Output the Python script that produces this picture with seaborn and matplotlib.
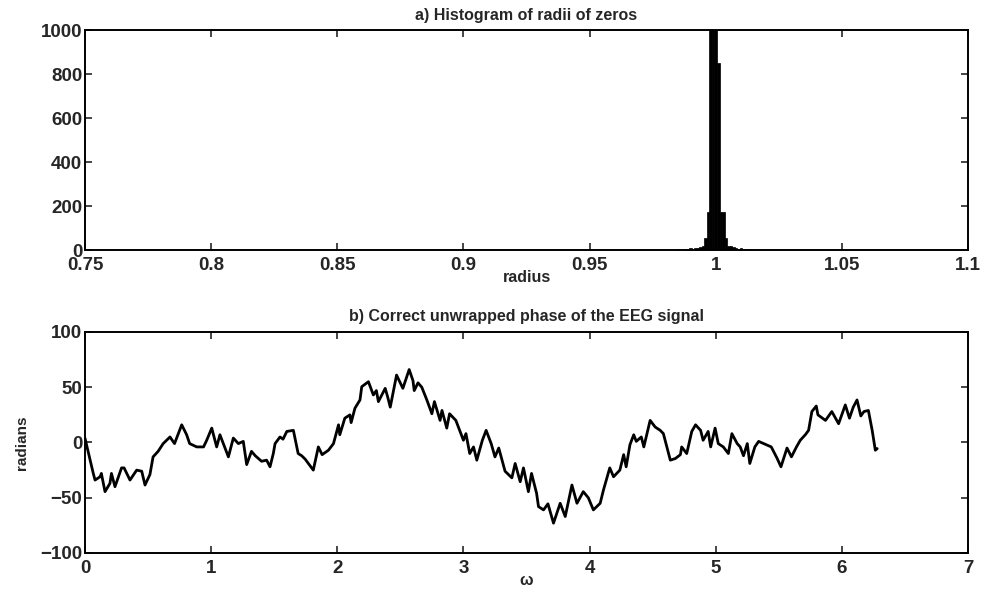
import numpy as np
import pandas as pd
import matplotlib
matplotlib.use("Agg")
import matplotlib.pyplot as plt
import seaborn as sns

# histogram of radii (bin centres and counts)
radius_bins = [0.985, 0.988, 0.990, 0.992, 0.993, 0.994, 0.995, 0.996, 0.997,
               0.998, 0.999, 1.000, 1.001, 1.002, 1.003, 1.004, 1.005, 1.006,
               1.007, 1.008, 1.010, 1.012, 1.014]
radius_counts = [3, 5, 8, 8, 10, 15, 20, 55, 174,
                 1000, 1000, 1000, 850, 174, 174, 55, 20, 20,
                 15, 10, 8, 5, 3]

# unwrapped phase, points
omega = [0.0, 0.066, 0.08, 0.12, 0.13, 0.159, 0.198, 0.21, 0.238, 0.29, 0.31, 0.357,
         0.41, 0.45, 0.476, 0.515, 0.54, 0.58, 0.62, 0.674, 0.71, 0.767, 0.806, 0.83,
         0.886, 0.94, 0.965, 1.005, 1.044, 1.07, 1.11, 1.137, 1.176, 1.216, 1.255,
         1.282, 1.32, 1.35, 1.4, 1.44, 1.467, 1.493, 1.507, 1.546, 1.57, 1.6, 1.652,
         1.69, 1.718, 1.745, 1.81, 1.85, 1.88, 1.93, 1.97, 2.01, 2.02, 2.06, 2.1,
         2.11, 2.14, 2.18, 2.194, 2.247, 2.286, 2.31, 2.326, 2.38, 2.40, 2.42, 2.47,
         2.52, 2.57, 2.6, 2.61, 2.64, 2.67, 2.71, 2.75, 2.77, 2.815, 2.83, 2.868,
         2.89, 2.94, 3.0, 3.02, 3.05, 3.08, 3.106, 3.15, 3.18, 3.22, 3.25, 3.28,
         3.33, 3.384, 3.41, 3.45, 3.476, 3.515, 3.54, 3.58, 3.595, 3.635, 3.67,
         3.714, 3.767, 3.807, 3.86, 3.9, 3.95, 3.99, 4.03, 4.084, 4.11, 4.16, 4.19,
         4.24, 4.27, 4.29, 4.32, 4.35, 4.37, 4.41, 4.43, 4.48, 4.52, 4.56, 4.585,
         4.64, 4.68, 4.72, 4.73, 4.77, 4.81, 4.84, 4.88, 4.9, 4.94, 4.96, 4.995,
         5.02, 5.06, 5.1, 5.128, 5.17, 5.194, 5.22, 5.25, 5.27, 5.31, 5.34, 5.38,
         5.44, 5.485, 5.517, 5.565, 5.6, 5.64, 5.67, 5.71, 5.736, 5.762, 5.797,
         5.81, 5.87, 5.92, 5.974, 6.027, 6.06, 6.09, 6.12, 6.15, 6.175, 6.21, 6.24,
         6.265, 6.28]
phase = [4, -28, -34, -31, -28, -44.5, -37, -28, -40, -23, -23, -34,
         -25, -26, -38.5, -29, -13, -8, -1, 5, -1, 16, 7, -1,
         -4, -4, 2, 13, -4, 7, -5, -13, 4, -1, 1,
         -20, -8, -12, -17, -16, -22, -10, -1, 5, 3, 10, 11,
         -10, -12, -15, -25, -4, -11, -7, -1, 16, 7, 22, 25,
         18, 31, 38.5, 50.5, 55, 43, 47, 37, 49, 41, 32, 61,
         49, 66, 56, 47, 54, 50, 38.5, 26, 37, 20, 29, 13,
         26, 20, 2, 8, -10, -4, -16, 2, 11, -1, -13, -5,
         -26, -32, -19, -35.5, -23, -44.5, -28, -46, -58, -61, -55.5,
         -73, -55, -67, -38.5, -55, -44.5, -50, -61, -55, -43, -23, -31,
         -25, -11, -22, -2, 7, 1, 5, -4, 20, 14, 11, 8,
         -16, -14.5, -11, -4, -10, 10, 16, 11, 2, 10, -4, 13,
         -1, -4, -10, 8, -1, -4, -12, -1, -19, -4, 1, -1,
         -4, -14, -22, -5, -13, -4, 2, 7, 11, 28, 33,
         25, 20, 28, 17, 34, 22, 32, 38.5, 24, 28, 29, 11,
         -7, -5.5]

hist_df = pd.DataFrame({"radius": radius_bins, "count": radius_counts})
phase_df = pd.DataFrame({"omega": omega, "phase": phase})

sns.set_style("ticks")
plt.rcParams["font.family"] = ["Liberation Sans", "DejaVu Sans"]
plt.rcParams["font.weight"] = "bold"

fig = plt.figure(figsize=(9.81, 5.92), dpi=100)
ax1 = fig.add_axes([0.0866, 0.5777, 0.9002, 0.3716])
ax2 = fig.add_axes([0.0866, 0.0659, 0.9002, 0.3733])

# a) histogram
sns.histplot(data=hist_df, x="radius", weights="count", binwidth=0.001,
             binrange=(0.7495, 1.1005), element="bars",
             color="black", edgecolor="black", linewidth=0.5, alpha=1, ax=ax1)
ax1.set_xlim(0.75, 1.1)
ax1.set_ylim(0, 1000)
ax1.set_xticks([0.75, 0.8, 0.85, 0.9, 0.95, 1.0, 1.05, 1.1])
ax1.set_xticklabels(["0.75", "0.8", "0.85", "0.9", "0.95", "1", "1.05", "1.1"])
ax1.set_yticks([0, 200, 400, 600, 800, 1000])
ax1.set_title("a) Histogram of radii of zeros", fontsize=11.5, fontweight="bold", pad=7)
ax1.set_xlabel("radius", fontsize=11.5, fontweight="bold", labelpad=-3)
ax1.set_ylabel("")

# b) unwrapped phase
sns.lineplot(data=phase_df, x="omega", y="phase", color="black", linewidth=2.0, ax=ax2)
ax2.set_xlim(0, 7)
ax2.set_ylim(-100, 100)
ax2.set_xticks(range(0, 8))
ax2.set_yticks([-100, -50, 0, 50, 100])
ax2.set_title("b) Correct unwrapped phase of the EEG signal", fontsize=11.5,
              fontweight="bold", pad=8)
ax2.set_xlabel("ω", fontsize=11.5, fontweight="bold", labelpad=-3)
ax2.set_ylabel("radians", fontsize=11, fontweight="bold", labelpad=8)

for ax in (ax1, ax2):
    for side in ("top", "right", "left", "bottom"):
        ax.spines[side].set_visible(True)
        ax.spines[side].set_linewidth(1.4)
        ax.spines[side].set_color("black")
    ax.tick_params(axis="both", which="both", direction="in", top=True, right=True,
                   length=5, width=1.2, labelsize=13.5, pad=2)
    ax.tick_params(axis="x", pad=5)
    for lab in ax.get_xticklabels() + ax.get_yticklabels():
        lab.set_fontweight("bold")

plt.savefig("out.png", dpi=100)
